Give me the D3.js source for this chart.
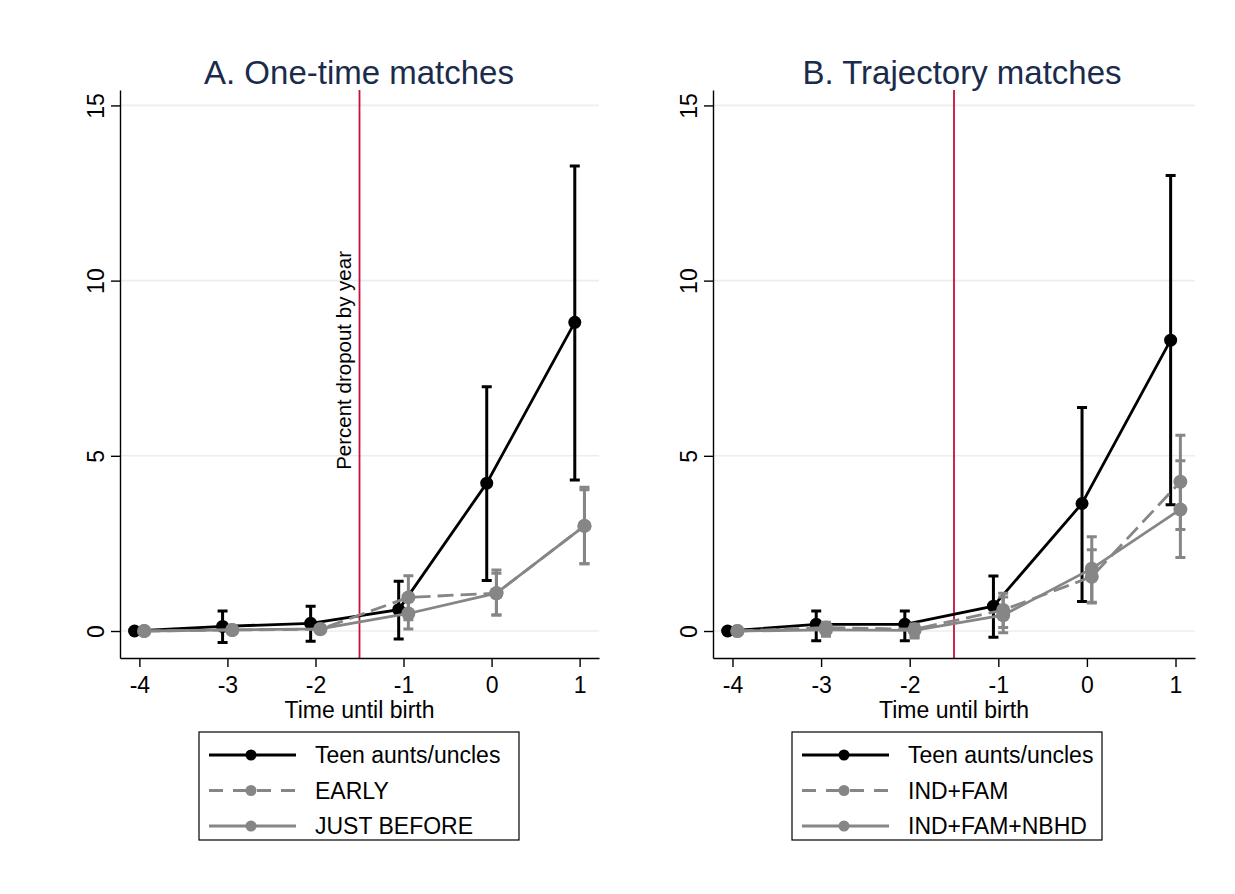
<!DOCTYPE html>
<html>
<meta charset="utf-8">
<style>
body {
  margin: 0;
  background: #fff;
  font-family: 'Liberation Sans', Arial, sans-serif;
}
.axis path,
.axis line {
  fill: none;
  stroke: #000;
  stroke-width: 1.4px;
}
.axis text {
  font-family: 'Liberation Sans', Arial, sans-serif;
  font-size: 23px;
  fill: #000;
}
.grid {
  stroke: #e8eff0;
  stroke-width: 1.6px;
}
</style>
<body>
<script src="https://d3js.org/d3.v7.min.js"></script>
<script>
var w = 1235;
var h = 894;

var years = [-4, -3, -2, -1, 0, 1];
var yTicks = [0, 5, 10, 15];

// A. one-time matches
var teenA    = [0, 0.13, 0.22, 0.61, 4.22, 8.81];
var teenA_lo = [0, -0.33, -0.29, -0.23, 1.44, 4.31];
var teenA_hi = [0, 0.57, 0.71, 1.42, 6.97, 13.27];
var earlyA    = [0, 0.03, 0.05, 0.96, 1.08, 3.0];
var earlyA_lo = [0, -0.02, 0, 0.32, 0.46, 1.92];
var earlyA_hi = [0, 0.08, 0.1, 1.58, 1.74, 4.1];
var justA    = [0, 0.03, 0.06, 0.5, 1.08, 3.0];
var justA_lo = [0, -0.02, 0, 0.06, 0.46, 1.92];
var justA_hi = [0, 0.08, 0.12, 0.94, 1.65, 4.03];

// B. trajectory matches
var teenB    = [0, 0.19, 0.19, 0.71, 3.64, 8.3];
var teenB_lo = [0, -0.28, -0.28, -0.18, 0.84, 3.6];
var teenB_hi = [0, 0.57, 0.57, 1.57, 6.38, 13.0];
var famB    = [0, 0.1, 0.05, 0.6, 1.55, 4.26];
var famB_lo = [0, -0.1, -0.15, 0.1, 0.8, 2.9];
var famB_hi = [0, 0.25, 0.2, 1.08, 2.32, 5.59];
var nbhdB    = [0, 0.03, 0.02, 0.45, 1.78, 3.47];
var nbhdB_lo = [0, -0.15, -0.2, -0.05, 0.82, 2.1];
var nbhdB_hi = [0, 0.2, 0.18, 0.97, 2.69, 4.86];

var legendA = ["Teen aunts/uncles", "EARLY", "JUST BEFORE"];
var legendB = ["Teen aunts/uncles", "IND+FAM", "IND+FAM+NBHD"];

var styles = [
  {color: "#000", dash: null, shift: -0.055, r: 6.5},
  {color: "#868686", dash: "16,7", shift: 0.055, r: 7},
  {color: "#868686", dash: null, shift: 0.055, r: 7}
];

var svg = d3.select("body")
            .append("svg")
            .attr("width", w)
            .attr("height", h);

var yScale = d3.scaleLinear()
               .domain([-0.77, 15.44])
               .range([658, 90]);

function drawPanel(p) {
  var xScale = d3.scaleLinear()
                 .domain([-4.22, 1.22])
                 .range([p.left, p.right]);
  var g = svg.append("g");

  // gridlines
  g.selectAll(".grid")
      .data(yTicks)
      .enter()
      .append("line")
      .attr("class", "grid")
      .attr("x1", p.left)
      .attr("x2", p.right)
      .attr("y1", function(d) { return yScale(d); })
      .attr("y2", function(d) { return yScale(d); });

  // vertical reference line
  g.append("line")
      .attr("x1", xScale(-1.5))
      .attr("x2", xScale(-1.5))
      .attr("y1", yScale.range()[1])
      .attr("y2", yScale.range()[0])
      .style("stroke", "#c8103c")
      .style("stroke-width", 1.8);

  if (p.note) {
    g.append("text")
        .attr("transform", "translate(" + (xScale(-1.5) - 9) + "," + yScale(4.6) + ") rotate(-90)")
        .style("font-size", "20.5px")
        .style("fill", "#000")
        .text(p.note);
  }

  // y-axis
  g.append("g")
      .attr("class", "axis")
      .attr("transform", "translate(" + p.left + ",0)")
      .call(d3.axisLeft(yScale).tickValues(yTicks).tickSize(9).tickSizeOuter(0))
      .selectAll("text")
      .attr("x", 0)
      .attr("dy", 0)
      .attr("transform", "translate(-16,0) rotate(-90)")
      .style("text-anchor", "middle");

  // x-axis
  g.append("g")
      .attr("class", "axis")
      .attr("transform", "translate(0," + yScale.range()[0] + ")")
      .call(d3.axisBottom(xScale).tickValues(years).tickSize(9).tickSizeOuter(0)
              .tickPadding(10).tickFormat(function(d) { return String(d); }));

  g.append("text")
      .attr("x", (p.left + p.right) / 2)
      .attr("y", 718)
      .style("text-anchor", "middle")
      .style("font-size", "23px")
      .text("Time until birth");

  g.append("text")
      .attr("x", p.titleX)
      .attr("y", 84)
      .style("text-anchor", "middle")
      .style("font-size", "33px")
      .style("fill", "#1a2b4c")
      .text(p.title);

  // series: caps, connected line, markers
  p.series.forEach(function(s, i) {
    var st = styles[i];
    var pts = years.map(function(t, j) {
      return {t: t + st.shift, v: s.v[j], lo: s.lo[j], hi: s.hi[j]};
    });
    var ci = pts.filter(function(d) { return d.hi > d.lo; });
    var sg = g.append("g");

    sg.selectAll(".ci")
        .data(ci)
        .enter()
        .append("path")
        .attr("d", function(d) {
          var cx = xScale(d.t), y0 = yScale(d.lo), y1 = yScale(d.hi);
          return "M" + (cx - 5) + "," + y1 + "H" + (cx + 5) +
                 "M" + cx + "," + y1 + "V" + y0 +
                 "M" + (cx - 5) + "," + y0 + "H" + (cx + 5);
        })
        .style("fill", "none")
        .style("stroke", st.color)
        .style("stroke-width", 3);

    var line = d3.line()
        .x(function(d) { return xScale(d.t); })
        .y(function(d) { return yScale(d.v); });

    sg.append("path")
        .datum(pts)
        .attr("d", line)
        .style("fill", "none")
        .style("stroke", st.color)
        .style("stroke-width", 2.8)
        .style("stroke-dasharray", st.dash);

    sg.selectAll("circle")
        .data(pts)
        .enter()
        .append("circle")
        .attr("r", st.r)
        .attr("cx", function(d) { return xScale(d.t); })
        .attr("cy", function(d) { return yScale(d.v); })
        .style("fill", st.color);
  });

  // legend
  var lg = svg.append("g").attr("transform", "translate(" + p.legX + ",732)");
  lg.append("rect")
      .attr("width", p.legW)
      .attr("height", 108)
      .style("fill", "#fff")
      .style("stroke", "#000")
      .style("stroke-width", 1.2);

  var row = lg.selectAll(".legend")
      .data(p.labels)
      .enter()
      .append("g")
      .attr("transform", function(d, i) { return "translate(0," + (23 + i * 35.5) + ")"; });

  row.append("line")
      .attr("x1", 10)
      .attr("x2", 97)
      .style("stroke", function(d, i) { return styles[i].color; })
      .style("stroke-width", 2.8)
      .style("stroke-dasharray", function(d, i) { return styles[i].dash ? "14,10" : null; });

  row.append("circle")
      .attr("cx", 52)
      .attr("r", 5.5)
      .style("fill", function(d, i) { return styles[i].color; });

  row.append("text")
      .attr("x", 116)
      .attr("dy", "0.35em")
      .style("font-size", "23px")
      .text(function(d) { return d; });
}

drawPanel({
  left: 120, right: 599, titleX: 359,
  title: "A. One-time matches",
  note: "Percent dropout by year",
  legX: 199, legW: 320,
  labels: legendA,
  series: [
    {v: teenA, lo: teenA_lo, hi: teenA_hi},
    {v: earlyA, lo: earlyA_lo, hi: earlyA_hi},
    {v: justA, lo: justA_lo, hi: justA_hi}
  ]
});

drawPanel({
  left: 713, right: 1195, titleX: 962,
  title: "B. Trajectory matches",
  note: null,
  legX: 792, legW: 310,
  labels: legendB,
  series: [
    {v: teenB, lo: teenB_lo, hi: teenB_hi},
    {v: famB, lo: famB_lo, hi: famB_hi},
    {v: nbhdB, lo: nbhdB_lo, hi: nbhdB_hi}
  ]
});
</script>
</body>
</html>
